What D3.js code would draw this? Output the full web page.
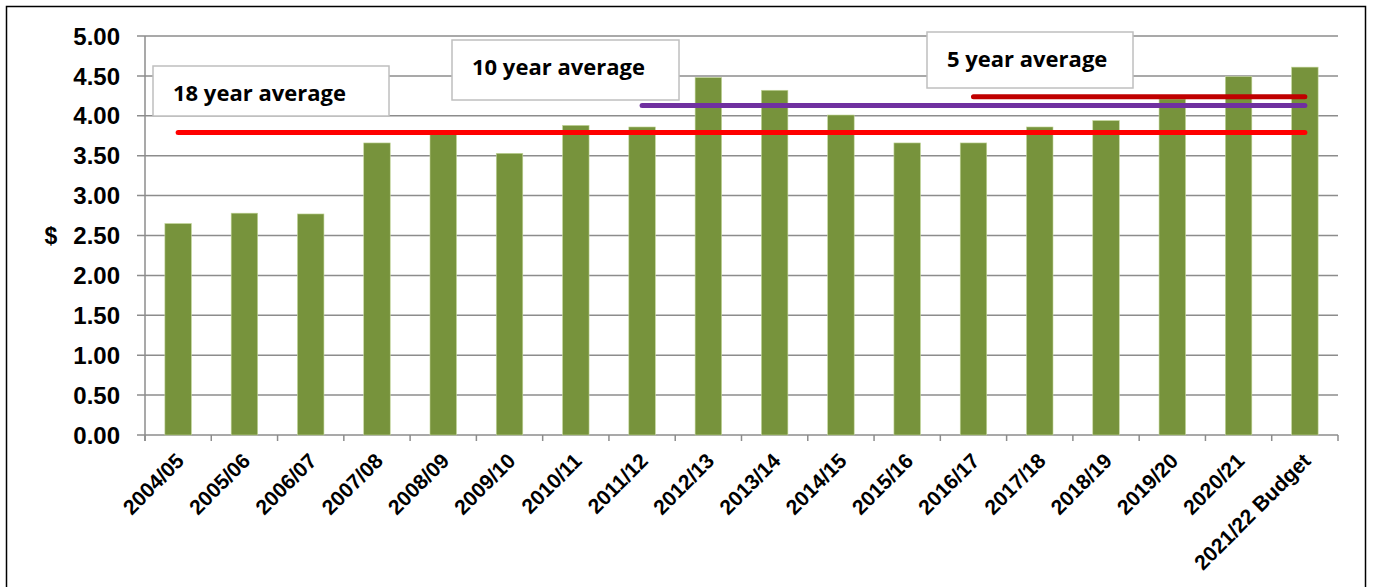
<!DOCTYPE html>
<html>
<head>
<meta charset="utf-8">
<script src="https://cdn.jsdelivr.net/npm/d3@7"></script>
<style>
  body { margin: 0; background: #fff; }
</style>
</head>
<body>
<div id="chart"></div>
<script>
// data
const years = ["2004/05", "2005/06", "2006/07", "2007/08", "2008/09", "2009/10",
  "2010/11", "2011/12", "2012/13", "2013/14", "2014/15", "2015/16", "2016/17",
  "2017/18", "2018/19", "2019/20", "2020/21", "2021/22 Budget"];
const values = [2.65, 2.78, 2.77, 3.66, 3.79, 3.53, 3.88, 3.86, 4.48, 4.32,
  4.01, 3.66, 3.66, 3.86, 3.94, 4.21, 4.49, 4.61];
const yTicks = [0, 0.5, 1, 1.5, 2, 2.5, 3, 3.5, 4, 4.5, 5];

// averages: label, value, first year, last year
const avgLabels = ["18 year average", "10 year average", "5 year average"];
const avgValues = [3.79, 4.13, 4.24];
const avgFrom = ["2004/05", "2011/12", "2016/17"];
const avgTo = ["2021/22 Budget", "2021/22 Budget", "2021/22 Budget"];
const avgColors = ["#ff0000", "#7030a0", "#c00000"];

const width = 1373;
const height = 587;
const margin = { top: 36, right: 35, bottom: 152, left: 145 };
const innerW = width - margin.left - margin.right;
const innerH = height - margin.top - margin.bottom;

const svg = d3.select("#chart")
  .append("svg")
  .attr("width", width)
  .attr("height", height);

// outer frame
svg.append("rect")
  .attr("x", 6.5).attr("y", 6.5)
  .attr("width", 1359).attr("height", 600)
  .attr("fill", "none")
  .attr("stroke", "#000")
  .attr("stroke-width", 1.5);

const g = svg.append("g")
  .attr("transform", `translate(${margin.left},${margin.top})`);

const x = d3.scaleBand()
  .domain(years)
  .range([0, innerW])
  .paddingInner(0.6)
  .paddingOuter(0.3);

const y = d3.scaleLinear()
  .domain([0, 5])
  .range([innerH, 0]);

// gridlines
g.selectAll(".grid")
  .data(yTicks)
  .enter()
  .append("line")
  .attr("x1", -8)
  .attr("x2", innerW)
  .attr("y1", (d) => y(d))
  .attr("y2", (d) => y(d))
  .attr("stroke", "#8c8c8c")
  .attr("stroke-width", 1.5);

// y axis line
g.append("line")
  .attr("x1", 0).attr("x2", 0)
  .attr("y1", 0).attr("y2", innerH + 6)
  .attr("stroke", "#8c8c8c")
  .attr("stroke-width", 1.5);

// x tick marks at category boundaries
const bounds = d3.range(years.length + 1).map((i) => i * innerW / years.length);
g.selectAll(".xtick")
  .data(bounds)
  .enter()
  .append("line")
  .attr("x1", (d) => d).attr("x2", (d) => d)
  .attr("y1", innerH).attr("y2", innerH + 6)
  .attr("stroke", "#8c8c8c")
  .attr("stroke-width", 1.5);

// y tick labels
g.selectAll(".ylab")
  .data(yTicks)
  .enter()
  .append("text")
  .attr("x", -25)
  .attr("y", (d) => y(d))
  .attr("dy", "0.36em")
  .attr("text-anchor", "end")
  .style("font-family", "Liberation Sans, Arial, sans-serif")
  .style("font-weight", "bold")
  .style("font-size", "24px")
  .text((d) => d.toFixed(2));

// $ label
svg.append("text")
  .attr("x", 51)
  .attr("y", 244)
  .attr("text-anchor", "middle")
  .style("font-family", "Liberation Sans, Arial, sans-serif")
  .style("font-weight", "bold")
  .style("font-size", "23px")
  .text("$");

// bars
g.selectAll(".bar")
  .data(values)
  .enter()
  .append("rect")
  .attr("x", (d, i) => x(years[i]))
  .attr("y", (d) => y(d))
  .attr("width", x.bandwidth())
  .attr("height", (d) => innerH - y(d))
  .attr("fill", "#77933c")
  .attr("stroke", "#c4d79b")
  .attr("stroke-width", 0.6);

// x labels
g.selectAll(".xlab")
  .data(years)
  .enter()
  .append("text")
  .attr("transform", (d) => `translate(${x(d) + x.bandwidth() / 2 + 2},${innerH + 22}) rotate(-45)`)
  .attr("text-anchor", "end")
  .attr("dy", "0.35em")
  .style("font-family", "Liberation Sans, Arial, sans-serif")
  .style("font-weight", "bold")
  .style("font-size", "21px")
  .text((d) => d);

// average lines
const cx = (d) => x(d) + x.bandwidth() / 2;
g.selectAll(".avg")
  .data(avgValues)
  .enter()
  .append("line")
  .attr("x1", (d, i) => cx(avgFrom[i]))
  .attr("x2", (d, i) => cx(avgTo[i]))
  .attr("y1", (d) => y(d))
  .attr("y2", (d) => y(d))
  .attr("stroke", (d, i) => avgColors[i])
  .attr("stroke-width", 5)
  .attr("stroke-linecap", "round");

// label boxes
const boxes = [
  { x: 153, y: 66, w: 236, h: 50, tx: 173, ty: 101 },
  { x: 452, y: 40, w: 227, h: 60, tx: 472, ty: 75 },
  { x: 927, y: 32, w: 206, h: 56, tx: 947, ty: 67 },
];
boxes.forEach((b, i) => {
  svg.append("rect")
    .attr("x", b.x).attr("y", b.y)
    .attr("width", b.w).attr("height", b.h)
    .attr("fill", "#fff")
    .attr("stroke", "#bfbfbf")
    .attr("stroke-width", 1.5);
  svg.append("text")
    .attr("x", b.tx).attr("y", b.ty)
    .style("font-family", "Open Sans, Lato, sans-serif")
    .style("font-weight", "bold")
    .style("font-size", "22px")
    .text(avgLabels[i]);
});
</script>
</body>
</html>
